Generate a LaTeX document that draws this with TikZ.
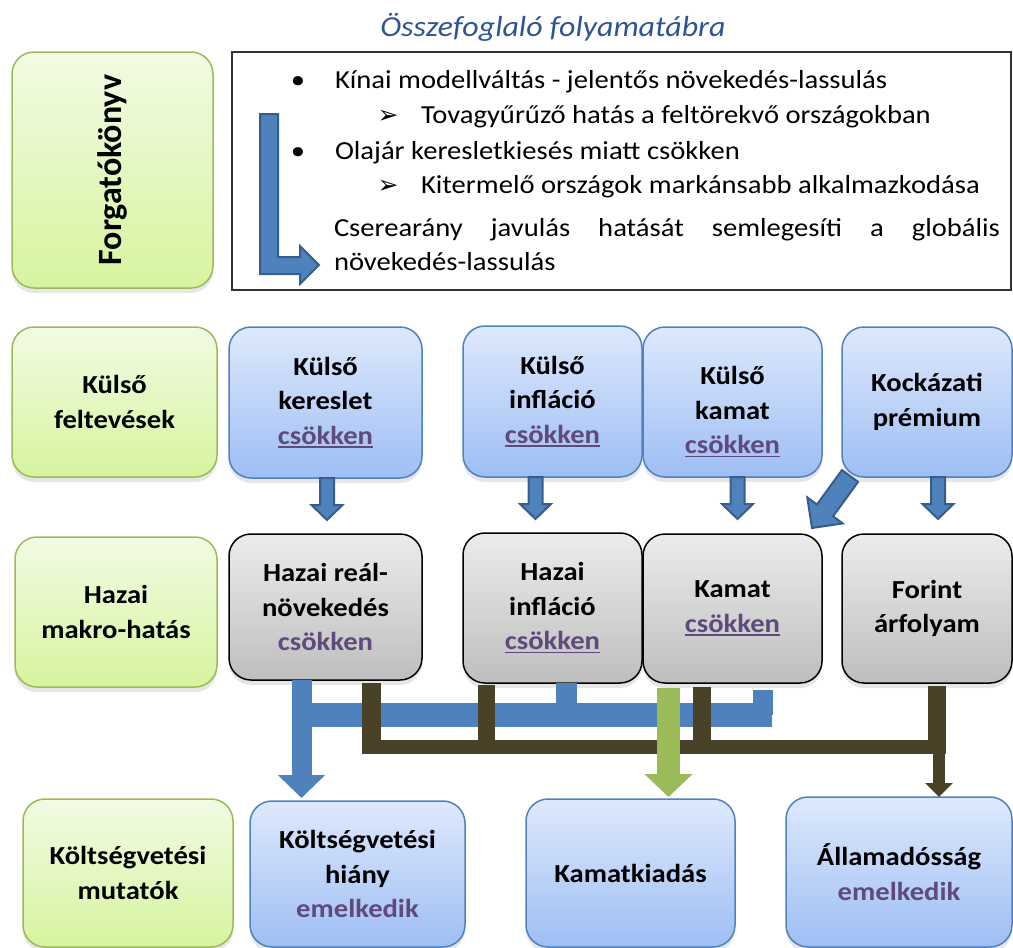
\documentclass[tikz,border=0pt]{standalone}
\usepackage{fontspec}
\setmainfont{Carlito}[FakeStretch=1.1]
\newfontfamily\plainfont{Carlito}
\newfontfamily\dingfont{DejaVu Sans}
\usetikzlibrary{calc,shadows,arrows.meta}

\definecolor{titleblue}{RGB}{47,84,150}
\definecolor{purp}{RGB}{96,74,123}
\definecolor{gborder}{RGB}{155,187,89}
\definecolor{gtop}{RGB}{242,251,228}
\definecolor{gbot}{RGB}{214,244,158}
\definecolor{bborder}{RGB}{79,129,189}
\definecolor{btop}{RGB}{222,233,252}
\definecolor{bbot}{RGB}{158,190,244}
\definecolor{ytop}{RGB}{236,236,236}
\definecolor{ybot}{RGB}{190,190,190}
\definecolor{arrowfill}{RGB}{79,129,189}
\definecolor{arrowedge}{RGB}{56,93,138}
\definecolor{olivec}{RGB}{73,66,41}
\definecolor{lgreen}{RGB}{155,187,89}

\newsavebox\ulcbox
\newcommand\ulc[1]{\sbox\ulcbox{#1}\rlap{\rule[-3.5pt]{\wd\ulcbox}{1.7pt}}\usebox\ulcbox}
\newcommand\blockdn[2]{\draw[barrow] ($(#1.south)+(#2-7,0)$) -- ++(0,27) -- ++(-8.5,0) -- ++(15.5,15) -- ++(15.5,-15) -- ++(-8.5,0) -- ++(0,-27) -- cycle;}

\begin{document}
\begin{tikzpicture}[x=1pt,y=-1pt,
  every node/.style={inner sep=0pt, outer sep=0pt},
  boxbase/.style={rounded corners=22pt, line width=1.5pt, align=center,
    font=\fontsize{26}{34.5}\selectfont\bfseries,
    drop shadow={shadow xshift=0pt, shadow yshift=-5pt, opacity=0.2}},
  greenbox/.style={boxbase, draw=gborder, top color=gtop, bottom color=gbot},
  bluebox/.style={boxbase, draw=bborder, top color=btop, bottom color=bbot},
  graybox/.style={boxbase, draw=black, top color=ytop, bottom color=ybot},
  boxtext/.style={align=center, font=\fontsize{26}{34.5}\selectfont\bfseries},
  scentext/.style={font=\fontsize{26}{30}\selectfont},
  dingtext/.style={font=\dingfont\fontsize{25}{28}\selectfont},
  barrow/.style={fill=arrowfill, draw=arrowedge, line width=2pt, line join=miter},
  bluebar/.style={draw=arrowfill},
  olivebar/.style={draw=olivec},
]
\useasboundingbox (0,0) rectangle (1013,948);

% title
\node[font=\fontsize{29}{32}\selectfont\itshape, text=titleblue, anchor=base] (title) at (553,36.5) {Összefoglaló folyamatábra};

% scenario
\node[greenbox, minimum width=201pt, minimum height=236pt] (forg) at (112.5,170) {};
\node[rotate=90, font=\plainfont\fontsize{34}{38}\selectfont\bfseries] (forgtext) at (forg.center) {Forgatókönyv};

\node[draw=black!80, line width=1.2pt, minimum width=779pt, minimum height=238pt] (scen) at (621.5,171) {};
\draw[barrow] ($(scen.north west)+(28,62)$) -- ++(0,160) -- ++(40,0) -- ++(0,10) -- ++(19,-19) -- ++(-19,-19) -- ++(0,11) -- ++(-22,0) -- ++(0,-143) -- cycle;

\node[scentext, anchor=base] (bul1) at (298,88.3) {•};
\node[scentext, anchor=base west] (l1) at (335,88.3) {Kínai modellváltás - jelentős növekedés-lassulás};
\node[dingtext, anchor=base] (arr1) at (388,123.3) {➢};
\node[scentext, anchor=base west] (l2) at (421,123.3) {Tovagyűrűző hatás a feltörekvő országokban};
\node[scentext, anchor=base] (bul2) at (298,159.5) {•};
\node[scentext, anchor=base west] (l3) at (335,159.5) {Olajár keresletkiesés miatt csökken};
\node[dingtext, anchor=base] (arr2) at (388,193.3) {➢};
\node[scentext, anchor=base west] (l4) at (421,193.3) {Kitermelő országok markánsabb alkalmazkodása};
\node[scentext, anchor=base west] (l5) at (334,236.7) {\makebox[666pt][l]{Cserearány\hfill javulás\hfill hatását\hfill semlegesíti\hfill a\hfill globális}};
\node[scentext, anchor=base west] (l6) at (334,270) {növekedés-lassulás};

% row 1
\node[greenbox, minimum width=205pt, minimum height=150pt] (kf) at (114.5,402) {Külső\\feltevések};
\node[bluebox, minimum width=193pt, minimum height=151pt] (kker) at (325.5,402.5) {Külső\\kereslet\\\textcolor{purp}{\ulc{csökken}}};
\node[bluebox, minimum width=179pt, minimum height=151pt] (kinf) at (552.5,401.5) {Külső\\infláció\\\textcolor{purp}{\ulc{csökken}}};
\node[bluebox, minimum width=179pt, minimum height=150pt] (kkam) at (732.5,402) {};
\node[boxtext] (kkamtext) at ($(kkam.center)+(0,10)$) {Külső\\kamat\\\textcolor{purp}{\ulc{csökken}}};
\node[bluebox, minimum width=170pt, minimum height=150pt] (kock) at (927,402) {Kockázati\\prémium};

% row 2
\node[greenbox, minimum width=202pt, minimum height=150pt] (hm) at (116,612) {Hazai\\makro-hatás};
\node[graybox, minimum width=193pt, minimum height=146pt] (hreal) at (325.5,607) {Hazai reál-\\növekedés\\\textcolor{purp}{csökken}};
\node[graybox, minimum width=179pt, minimum height=150pt] (hinf) at (552.5,608) {Hazai\\infláció\\\textcolor{purp}{\ulc{csökken}}};
\node[graybox, minimum width=179pt, minimum height=149pt] (kamat) at (732.5,608.5) {Kamat\\\textcolor{purp}{\ulc{csökken}}};
\node[graybox, minimum width=170pt, minimum height=149pt] (forint) at (927,608.5) {Forint\\árfolyam};

% row 3
\node[greenbox, minimum width=210pt, minimum height=148pt] (km) at (128,873) {Költségvetési\\mutatók};
\node[bluebox, minimum width=215pt, minimum height=146pt] (hiany) at (357.5,874) {Költségvetési\\hiány\\\textcolor{purp}{emelkedik}};
\node[bluebox, minimum width=209pt, minimum height=148pt] (kkiad) at (630.5,873) {Kamatkiadás};
\node[bluebox, minimum width=226pt, minimum height=150pt] (allam) at (899,872) {Államadósság\\\textcolor{purp}{emelkedik}};

% block arrows row1 -> row2
\blockdn{kker}{1.5}
\blockdn{kinf}{-17}
\blockdn{kkam}{5}
\blockdn{kock}{11}
\draw[barrow] ($(kock.south west)+(16.07,4.9)$) -- ++(-25,34.4) -- ++(9.68,7.1) -- ++(-30.75,4.6) -- ++(-4.75,-30.6) -- ++(9.68,7.1) -- ++(25,-34.4) -- cycle;

% blue connectors
\coordinate (b1) at ($(hreal.south)+(-24,0)$);
\coordinate (bbusL) at ($(b1)+(-10,35)$);
\coordinate (bbusR) at (772,715);
\draw[bluebar, line width=24pt] (bbusL) -- (bbusR);
\path ($(hinf.south)+(14,0)$) coordinate (b2);
\path ($(kamat.south)+(30,7)$) coordinate (b3);
\draw[bluebar, line width=21pt] (b2) -- (b2 |- bbusR);
\draw[bluebar, line width=20pt] (b3) -- (b3 |- bbusR);
\draw[bluebar, line width=20pt, -{Triangle[width=46pt,length=23pt]}, shorten >=3pt] (b1) -- (b1 |- hiany.north);

% olive connectors
\coordinate (dL) at (362,747);
\coordinate (dR) at (946,747);
\path ($(hreal.south)+(46,3)$) coordinate (d1);
\path ($(hinf.south)+(-66,2)$) coordinate (d2);
\path ($(kamat.south)+(-30.5,4)$) coordinate (d3);
\path ($(forint.south)+(10,3)$) coordinate (d4);
\draw[olivebar, line width=19pt] (d1) -- (d1 |- dL);
\draw[olivebar, line width=17pt] (d2) -- (d2 |- dL);
\draw[olivebar, line width=18pt] (d3) -- (d3 |- dL);
\draw[olivebar, line width=18pt] (d4) -- (d4 |- dL);
\draw[olivebar, line width=14pt] (dL) -- (dR);
\coordinate (d5) at ($(allam.north)+(40,-50)$);
\draw[olivebar, line width=12pt, -{Triangle[width=27pt,length=14pt]}] (d5) -- (d5 |- allam.north);

% green connector
\path ($(kamat.south)+(-64,5)$) coordinate (g1);
\draw[draw=lgreen, line width=23pt, -{Triangle[width=47pt,length=23pt]}, shorten >=2pt] (g1) -- (g1 |- kkiad.north);
\end{tikzpicture}
\end{document}
